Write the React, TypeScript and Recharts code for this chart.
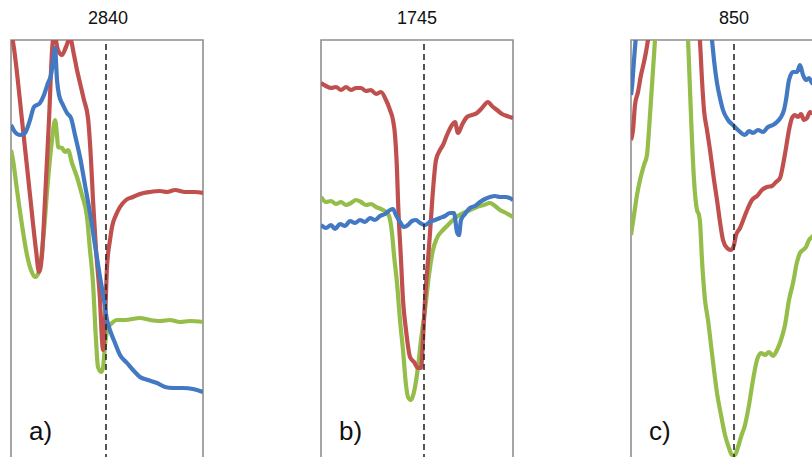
import React from "react";
import { LineChart, Line, XAxis, YAxis, ReferenceLine, ReferenceArea } from "recharts";

// x: position across each window (0..192), y: absorbance (arbitrary units)
const panelTitles = ["2840", "1745", "850"];
const panelLabels = ["a)", "b)", "c)"];
const peakPositions = [95, 103, 103];

const aRed: [number, number][] = [
  [0, 4.48], [2, 4.38], [11, 3.6], [19, 2.85], [25, 2.3], [28, 2.08], [31, 2.25], [34, 2.8], [38, 3.6], [42, 4.4],
  [44, 4.42], [47, 4.3], [51, 4.25], [55, 4.33], [59, 4.42], [63, 4.25], [66, 4.1], [69, 3.97], [73, 3.8], [77, 3.62],
  [80, 3.2], [82, 2.8], [85, 2.3], [89, 1.8], [91, 1.4], [92, 1.3], [94, 1.6], [96, 2.13], [99, 2.4], [101, 2.53],
  [105, 2.65], [109, 2.73], [115, 2.8], [122, 2.83], [129, 2.86], [139, 2.88], [149, 2.89], [156, 2.88], [164, 2.9],
  [174, 2.88], [184, 2.88], [192, 2.87],
];
const aGreen: [number, number][] = [
  [0, 3.3], [2, 3.2], [6, 2.9], [11, 2.55], [16, 2.25], [20, 2.1], [24, 2.03], [27, 2.06], [29, 2.13], [33, 2.5],
  [37, 3.0], [41, 3.4], [44, 3.6], [46, 3.45], [47, 3.33], [51, 3.32], [54, 3.28], [57, 3.3], [61, 3.17], [66, 3.03],
  [71, 2.85], [76, 2.63], [79, 2.3], [82, 1.97], [85, 1.4], [87, 1.13], [90, 1.08], [92, 1.12], [94, 1.35], [97, 1.52],
  [101, 1.57], [106, 1.6], [114, 1.6], [129, 1.62], [139, 1.6], [149, 1.59], [159, 1.6], [169, 1.58], [179, 1.59], [192, 1.58],
];
const aBlue: [number, number][] = [
  [0, 3.55], [4, 3.48], [9, 3.45], [14, 3.47], [19, 3.6], [23, 3.73], [29, 3.77], [33, 3.85], [37, 3.97], [40, 4.05],
  [42, 4.18], [44, 4.32], [46, 4.0], [48, 3.85], [52, 3.75], [56, 3.67], [60, 3.62], [64, 3.45], [69, 3.23], [74, 2.95],
  [79, 2.67], [84, 2.35], [89, 2.03], [93, 1.8], [96, 1.6], [100, 1.47], [104, 1.37], [109, 1.25], [116, 1.17], [122, 1.1],
  [129, 1.03], [137, 1.0], [146, 0.97], [154, 0.93], [162, 0.92], [172, 0.92], [182, 0.91], [192, 0.88],
];

const bRed: [number, number][] = [
  [0, 3.97], [5, 3.94], [10, 3.92], [15, 3.93], [20, 3.9], [25, 3.93], [30, 3.9], [35, 3.92], [40, 3.92], [45, 3.89],
  [50, 3.9], [55, 3.86], [60, 3.88], [65, 3.8], [69, 3.7], [72, 3.6], [74, 3.45], [76, 3.1], [77, 2.8], [80, 2.2],
  [82, 1.8], [85, 1.5], [89, 1.23], [93, 1.18], [97, 1.12], [100, 1.12], [102, 1.4], [104, 1.8], [107, 2.2], [109, 2.47],
  [112, 2.9], [115, 3.2], [119, 3.3], [122, 3.35], [126, 3.45], [131, 3.55], [134, 3.58], [137, 3.47], [141, 3.55],
  [146, 3.63], [151, 3.65], [156, 3.67], [161, 3.72], [167, 3.78], [171, 3.74], [176, 3.7], [181, 3.66], [186, 3.64], [192, 3.62],
];
const bGreen: [number, number][] = [
  [0, 2.83], [5, 2.78], [10, 2.79], [15, 2.76], [20, 2.78], [25, 2.75], [30, 2.77], [35, 2.8], [40, 2.78], [45, 2.75],
  [50, 2.76], [55, 2.73], [60, 2.71], [65, 2.68], [68, 2.64], [71, 2.47], [73, 2.25], [76, 1.97], [79, 1.6], [82, 1.3],
  [85, 0.95], [87, 0.83], [90, 0.8], [93, 0.88], [97, 1.13], [100, 1.4], [104, 1.7], [108, 2.05], [112, 2.3], [116, 2.42],
  [122, 2.5], [127, 2.55], [132, 2.6], [137, 2.64], [142, 2.67], [149, 2.7], [156, 2.73], [163, 2.75], [169, 2.77],
  [174, 2.74], [179, 2.7], [185, 2.67], [192, 2.63],
];
const bBlue: [number, number][] = [
  [0, 2.55], [5, 2.52], [10, 2.55], [14, 2.51], [19, 2.56], [24, 2.54], [29, 2.59], [34, 2.57], [39, 2.6], [44, 2.58],
  [49, 2.62], [54, 2.6], [59, 2.64], [64, 2.66], [69, 2.7], [72, 2.71], [75, 2.65], [79, 2.58], [83, 2.53], [87, 2.55],
  [91, 2.59], [95, 2.6], [99, 2.57], [104, 2.55], [109, 2.58], [114, 2.6], [119, 2.62], [124, 2.64], [129, 2.67],
  [133, 2.67], [136, 2.48], [138, 2.45], [140, 2.6], [144, 2.66], [149, 2.72], [154, 2.74], [159, 2.78], [164, 2.81],
  [169, 2.83], [174, 2.84], [179, 2.83], [185, 2.83], [192, 2.8],
];

const cRed: [number, number][] = [
  [0, 3.4], [2, 3.5], [4, 3.75], [7, 3.88], [10, 4.05], [13, 4.18], [15, 4.28], [17, 4.4], [19, 4.5], [40, 4.9],
  [65, 4.9], [68, 4.5], [69, 4.38], [71, 4.0], [73, 3.7], [76, 3.5], [79, 3.3], [83, 3.0], [86, 2.8], [89, 2.58],
  [92, 2.4], [96, 2.32], [100, 2.3], [103, 2.35], [105, 2.45], [109, 2.52], [113, 2.62], [117, 2.72], [121, 2.8],
  [126, 2.84], [131, 2.9], [136, 2.93], [141, 2.94], [145, 2.98], [149, 3.02], [152, 3.15], [155, 3.32], [158, 3.5],
  [161, 3.62], [164, 3.65], [167, 3.63], [170, 3.66], [173, 3.6], [176, 3.62], [179, 3.68], [181, 3.67], [187, 3.68],
];
const cGreen: [number, number][] = [
  [0, 2.45], [3, 2.65], [6, 2.85], [9, 3.0], [13, 3.15], [16, 3.25], [18, 3.5], [20, 3.8], [22, 4.1], [24, 4.4],
  [25, 4.55], [40, 4.9], [55, 4.9], [56, 4.55], [57, 4.4], [59, 3.9], [61, 3.4], [63, 3.0], [66, 2.7], [68, 2.65],
  [69, 2.58], [71, 2.2], [74, 1.8], [77, 1.6], [80, 1.35], [83, 1.1], [86, 0.87], [90, 0.65], [94, 0.45], [98, 0.32],
  [101, 0.25], [104, 0.25], [107, 0.33], [110, 0.43], [114, 0.55], [118, 0.75], [122, 1.0], [126, 1.2], [130, 1.27],
  [134, 1.25], [138, 1.28], [142, 1.24], [146, 1.3], [150, 1.4], [154, 1.55], [158, 1.8], [162, 1.97], [166, 2.18],
  [169, 2.27], [172, 2.3], [175, 2.33], [178, 2.4], [181, 2.43], [187, 2.5],
];
const cBlue: [number, number][] = [
  [0, 3.85], [1, 3.93], [3, 4.2], [5, 4.45], [10, 4.9], [75, 4.9], [81, 4.4], [83, 4.2], [86, 3.97], [89, 3.82],
  [92, 3.7], [97, 3.6], [102, 3.55], [107, 3.5], [114, 3.45], [118, 3.49], [122, 3.47], [127, 3.5], [132, 3.48],
  [137, 3.53], [142, 3.55], [146, 3.58], [150, 3.63], [153, 3.7], [155, 3.8], [158, 4.0], [162, 4.08], [166, 4.08],
  [169, 4.15], [172, 4.05], [175, 4.0], [178, 4.02], [181, 3.97], [187, 3.95],
];

const panels = [
  { red: aRed, green: aGreen, blue: aBlue },
  { red: bRed, green: bGreen, blue: bBlue },
  { red: cRed, green: cGreen, blue: cBlue },
];

const toRows = (pts: [number, number][]) => pts.map(([x, y]) => ({ x, y }));

const RED = "#c0504d";
const GREEN = "#94bd4a";
const BLUE = "#4279c2";
const FONT = "'Liberation Sans', Arial, sans-serif";

const boxLefts = [11, 321, 631];
const titleCenters = [108, 417, 734];

function Panel({ idx }: { idx: number }) {
  const p = panels[idx];
  return (
    <div style={{ position: "absolute", left: boxLefts[idx] - 1, top: 0 }}>
      <LineChart width={194} height={500} margin={{ top: 40, right: 1, bottom: 20, left: 1 }}>
        <XAxis type="number" dataKey="x" domain={[0, 192]} allowDataOverflow hide />
        <YAxis type="number" domain={[0, 4.4]} allowDataOverflow hide />
        <ReferenceArea x1={0} x2={192} y1={0} y2={4.4} fill="none" stroke="#8f8f8f" strokeWidth={1.6} ifOverflow="visible" />
        <Line data={toRows(p.green)} dataKey="y" type="monotone" stroke={GREEN} strokeWidth={4.2} dot={false} isAnimationActive={false} strokeLinejoin="round" />
        <Line data={toRows(p.red)} dataKey="y" type="monotone" stroke={RED} strokeWidth={4.2} dot={false} isAnimationActive={false} strokeLinejoin="round" />
        <Line data={toRows(p.blue)} dataKey="y" type="monotone" stroke={BLUE} strokeWidth={4.2} dot={false} isAnimationActive={false} strokeLinejoin="round" />
        <ReferenceLine x={peakPositions[idx]} stroke="#2a2a2a" strokeWidth={1.6} strokeDasharray="6 4" ifOverflow="visible" />
      </LineChart>
    </div>
  );
}

export default function App() {
  return (
    <div style={{ position: "fixed", left: 0, top: 0, width: 812, height: 457, overflow: "hidden", background: "#fff" }}>
      {[0, 1, 2].map((i) => (
        <Panel key={i} idx={i} />
      ))}
      <svg width={812} height={457} style={{ position: "absolute", left: 0, top: 0, pointerEvents: "none" }}>
        {panelTitles.map((t, i) => (
          <text key={t} x={titleCenters[i]} y={24} textAnchor="middle" fontFamily={FONT} fontSize={18} fill="#111">
            {t}
          </text>
        ))}
        {panelLabels.map((t, i) => (
          <text key={t} x={boxLefts[i] + 18} y={440} fontFamily={FONT} fontSize={26} fill="#111">
            {t}
          </text>
        ))}
      </svg>
    </div>
  );
}
